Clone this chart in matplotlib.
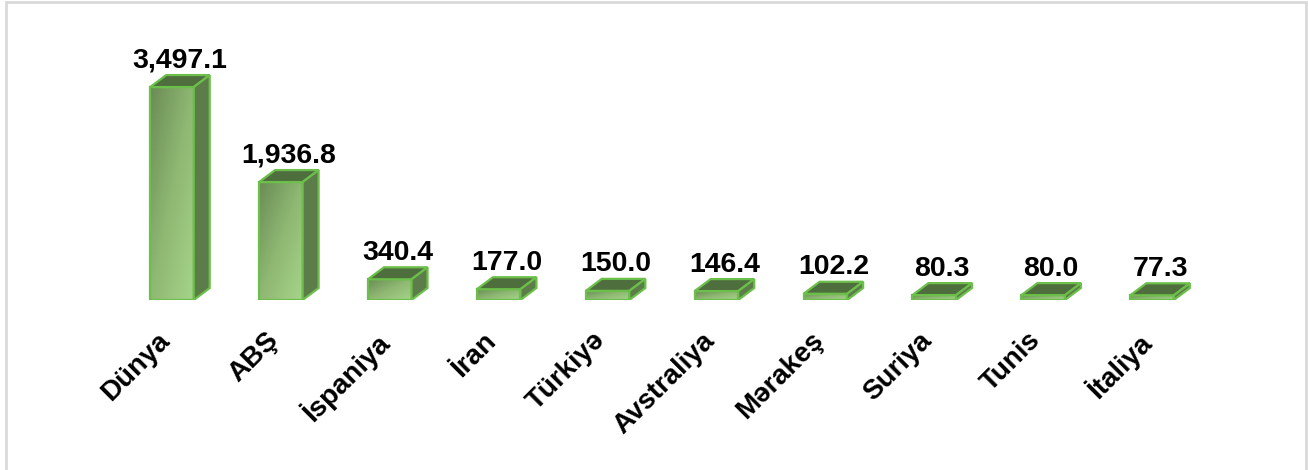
import matplotlib.pyplot as plt
import numpy as np
from matplotlib.colors import LinearSegmentedColormap
from matplotlib.patches import Polygon, Rectangle

countries = ["Dünya", "ABŞ", "İspaniya", "İran", "Türkiyə", "Avstraliya",
             "Mərakeş", "Suriya", "Tunis", "İtaliya"]
values = [3497.1, 1936.8, 340.4, 177.0, 150.0, 146.4, 102.2, 80.3, 80.0, 77.3]

plt.rcParams["font.family"] = ["Liberation Sans", "DejaVu Sans"]

W, H = 1308, 470
fig = plt.figure(figsize=(W / 100, H / 100), dpi=100)
# light grey frame, open at the bottom edge
fig.patches.append(Rectangle((6 / W, -0.05), 1300 / W, 1.05 - 2 / H, transform=fig.transFigure,
                             fill=False, edgecolor="#d9d9d9", linewidth=2))

# axes placed so the baseline sits at y=300px
ax = fig.add_axes([117.5 / W, 170 / H, 1089 / W, 260 / H])
ymax = 4270
ax.axis("off")

bar_w = 0.40
dx = 16 / 108.9
dy = 12 * ymax / 260

edge = "#6cbf4a"
top_c = "#4f6e3e"
side_c = "#5c7c49"
grad = LinearSegmentedColormap.from_list("g", ["#6a8c55", "#8fb873", "#a6d48a"])

gx, gy = np.meshgrid(np.linspace(0, 1, 50), np.linspace(0, 1, 50))
gimg = (gx + (1 - gy)) / 2

for i, v in enumerate(values):
    x0, x1 = i - bar_w / 2, i + bar_w / 2
    front = Rectangle((x0, 0), bar_w, v, facecolor="none", edgecolor=edge, lw=1.6, zorder=3)
    ax.add_patch(front)
    im = ax.imshow(gimg, cmap=grad, extent=(x0, x1, v, 0), aspect="auto",
                   origin="upper", zorder=2, interpolation="bilinear")
    im.set_clip_path(Rectangle((x0, 0), bar_w, v, transform=ax.transData))
    top = Polygon([(x0, v), (x1, v), (x1 + dx, v + dy), (x0 + dx, v + dy)],
                  facecolor=top_c, edgecolor=edge, lw=1.6, zorder=3)
    side = Polygon([(x1, 0), (x1 + dx, dy), (x1 + dx, v + dy), (x1, v)],
                   facecolor=side_c, edgecolor=edge, lw=1.6, zorder=3)
    ax.add_patch(top)
    ax.add_patch(side)
    ax.text(i + dx / 2, v + dy + 25, f"{v:,.1f}", ha="center", va="bottom",
            fontsize=20.5, fontweight="bold", color="black")
    ax.text(i - 0.14, -450, countries[i], ha="right", va="top", rotation=45,
            rotation_mode="anchor", fontsize=20, fontweight="bold", color="black")

ax.set_xlim(-0.5, len(values) - 0.5)
ax.set_ylim(0, ymax)

fig.savefig("out.png", dpi=100)
